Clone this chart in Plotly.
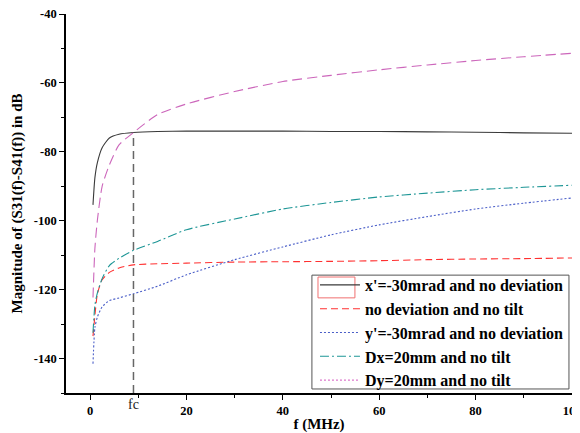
import plotly.graph_objects as go

# ---- data ----
freq_mhz = [0.6, 1.0, 1.5, 2.5, 4, 6, 9, 14, 20, 30, 40, 50, 60, 70, 80, 90, 100]

x_tilt_no_dev = [-95.4, -87.5, -83.2, -78.8, -76.0, -74.9, -74.4, -74.1, -74.0, -74.0,
                 -74.0, -74.1, -74.1, -74.2, -74.3, -74.5, -74.6]
no_dev_no_tilt = [-133.5, -127.5, -121.4, -117.1, -115.0, -113.7, -112.8, -112.5, -112.3, -112.0,
                  -111.9, -111.8, -111.6, -111.3, -111.1, -111.0, -110.8]
y_tilt_no_dev = [-141.5, -131.0, -128.0, -125.0, -123.2, -122.4, -121.2, -119.0, -115.7, -111.3,
                 -107.6, -104.1, -101.2, -98.8, -96.6, -94.9, -93.4]
dx_no_tilt = [-132.5, -124.5, -121.0, -116.8, -113.0, -110.9, -108.6, -106.0, -102.6, -99.5,
              -96.6, -94.7, -93.1, -92.0, -91.0, -90.3, -89.7]
dy_no_tilt = [-122.3, -108.0, -100.0, -90.0, -83.8, -78.0, -74.4, -69.2, -66.1, -62.5,
              -59.6, -57.8, -56.2, -54.8, -53.5, -52.4, -51.4]

fc = 9
fc_level = -74.4
y_floor = -150

x_ticks = [0, 20, 40, 60, 80, 100]
x_tick_labels = ["0", "20", "40", "60", "80", "100"]
y_ticks = [-140, -120, -100, -80, -60, -40]
y_tick_labels = ["-140", "-120", "-100", "-80", "-60", "-40"]

FONT = "'Liberation Serif', 'Times New Roman', serif"

fig = go.Figure()

series = [
    ("x'=-30mrad and no deviation", x_tilt_no_dev, "#3a3a3a", "solid"),
    ("no deviation and no tilt", no_dev_no_tilt, "#ff3030", "7px,4px"),
    ("y'=-30mrad and no deviation", y_tilt_no_dev, "#4a5ec8", "2px,2px"),
    ("Dx=20mm and no tilt", dx_no_tilt, "#1e9696", "9px,3px,2px,3px"),
]
for i, (name, vals, col, dash) in enumerate(series):
    fig.add_trace(go.Scatter(
        x=freq_mhz, y=vals, name=name, mode="lines",
        line=dict(color=col, width=1.1, dash=dash, shape="spline", smoothing=0.6),
    ))

# Dy curve: dashed in plot, dotted in legend
fig.add_trace(go.Scatter(
    x=freq_mhz, y=dy_no_tilt, name="Dy=20mm and no tilt", mode="lines", showlegend=False,
    line=dict(color="#cc66bb", width=1.1, dash="10px,5px", shape="spline", smoothing=0.6),
))
fig.add_trace(go.Scatter(
    x=[None], y=[None], name="Dy=20mm and no tilt", mode="lines",
    line=dict(color="#dd77cc", width=1.1, dash="2px,2px"),
))

# fc reference line
fig.add_trace(go.Scatter(
    x=[fc, fc], y=[y_floor, fc_level], mode="lines", showlegend=False,
    line=dict(color="#666666", width=1.5, dash="8px,5px"),
))

fig.add_annotation(x=fc, y=0, xref="x", yref="paper", yanchor="top", yshift=-2,
                   text="fc", showarrow=False,
                   font=dict(family=FONT, size=14, color="#222222"))

# legend frame (drawn as a shape so the rows can sit independently)
fig.add_shape(type="rect", xref="paper", yref="paper", layer="above",
              x0=0.486, x1=0.994, y0=0.0106, y1=0.311,
              line=dict(color="#555555", width=1), fillcolor="white")
# red selection rectangle around first legend sample
fig.add_shape(type="rect", xref="paper", yref="paper", layer="above",
              x0=0.498, x1=0.571, y0=0.251, y1=0.306,
              line=dict(color="#f07070", width=1), fillcolor="rgba(0,0,0,0)")

axis_common = dict(
    showgrid=False, zeroline=False, showline=True, linecolor="black", linewidth=1.5,
    ticks="outside", ticklen=5, tickwidth=1.2, tickcolor="black", automargin=False,
    ticklabeloverflow="allow",
    tickfont=dict(family=FONT, size=12.5, color="black", weight="bold"),
)

fig.update_xaxes(
    range=[-5, 100], tickvals=x_ticks, ticktext=x_tick_labels,
    minor=dict(tickvals=[10, 30, 50, 70, 90], ticks="outside", ticklen=3, tickcolor="black", tickwidth=1.2),
    title=dict(text="f (MHz)", font=dict(family=FONT, size=15, color="black", weight="bold"), standoff=2),
    **axis_common,
)
fig.update_yaxes(
    range=[-150, -40], tickvals=y_ticks, ticktext=y_tick_labels,
    minor=dict(tickvals=[-150, -130, -110, -90, -70, -50], ticks="outside", ticklen=3, tickcolor="black", tickwidth=1.2),
    title=dict(text="Magnitude of (S31(f)-S41(f)) in dB",
               font=dict(family=FONT, size=15, color="black", weight="bold"), standoff=8),
    **axis_common,
)

# page body adds an 8px offset, so the figure is 8px smaller on each axis
fig.update_layout(
    width=572, height=425,
    margin=dict(l=58, r=8, t=6, b=40),
    plot_bgcolor="white", paper_bgcolor="white",
    legend=dict(
        x=0.994, y=-0.0105, xanchor="right", yanchor="bottom",
        bgcolor="rgba(255,255,255,0)", borderwidth=0,
        font=dict(family=FONT, size=16, color="black", weight="bold"),
        traceorder="normal",
        itemwidth=40,
    ),
    showlegend=True,
)

fig.write_html("out.html")
